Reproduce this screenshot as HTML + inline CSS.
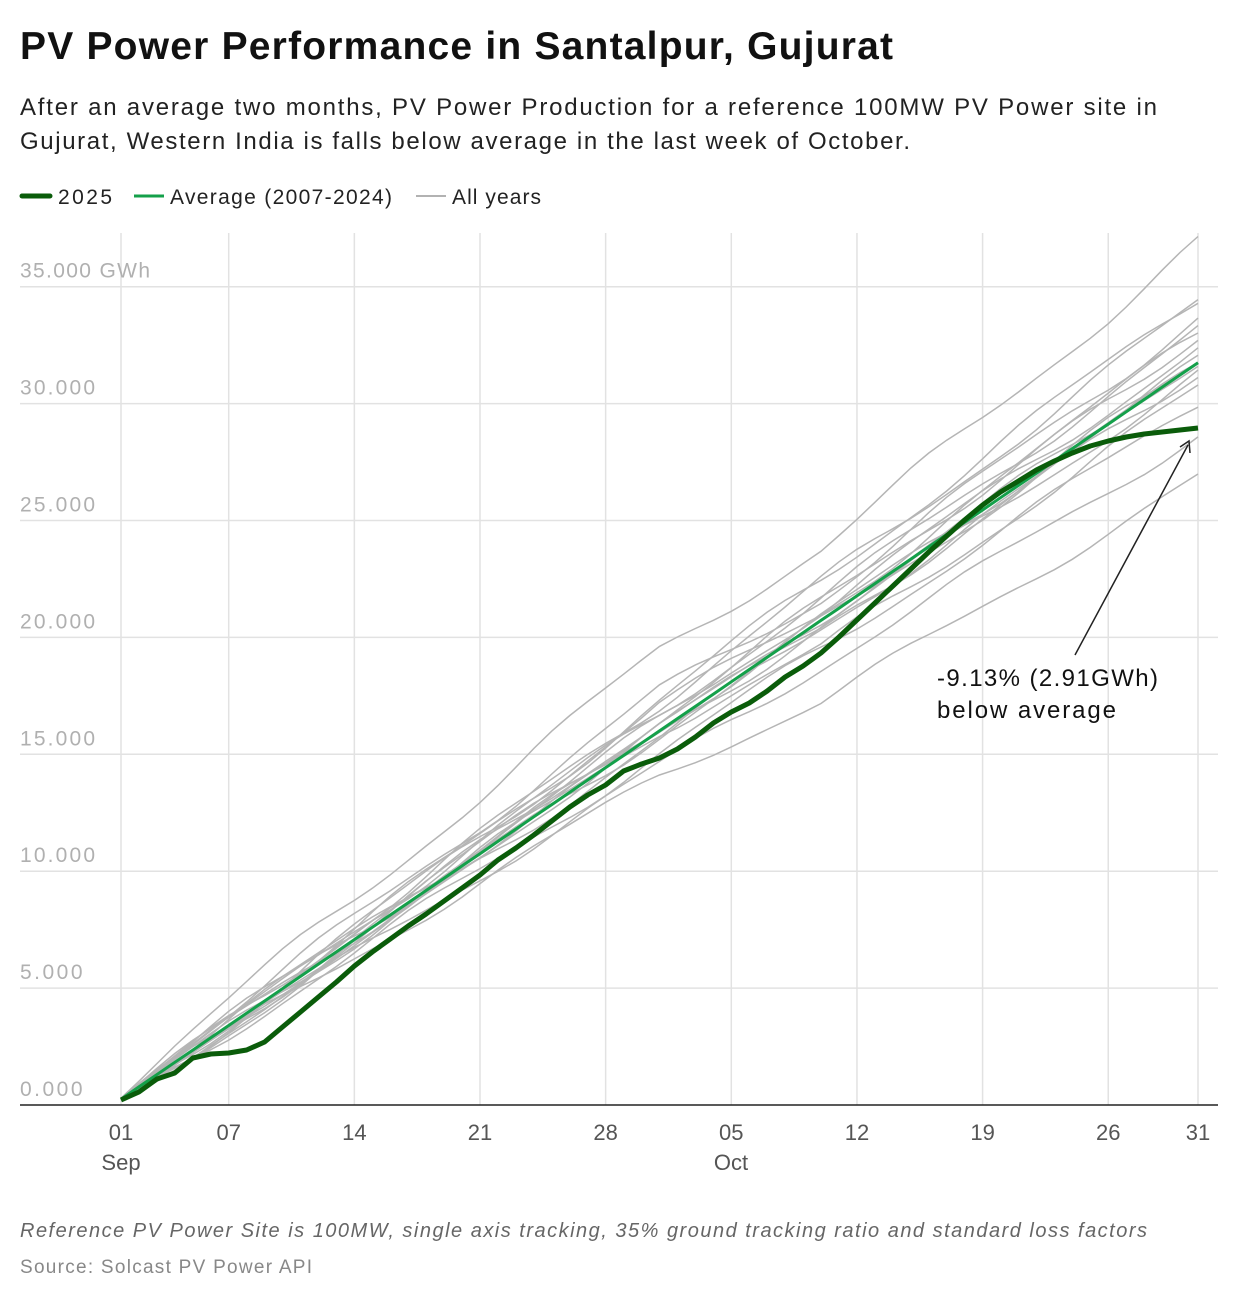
<!DOCTYPE html>
<html><head><meta charset="utf-8"><style>
html,body{margin:0;padding:0;background:#fff;}
body{width:1240px;height:1300px;overflow:hidden;font-family:"Liberation Sans",sans-serif;}
</style></head><body>
<svg id="s" width="1240" height="1300" xmlns="http://www.w3.org/2000/svg" font-family="Liberation Sans, sans-serif">
<text x="20" y="59" font-size="39" font-weight="bold" fill="#111" textLength="873">PV Power Performance in Santalpur, Gujurat</text>
<text x="20" y="115" font-size="24" fill="#222" textLength="1137">After an average two months, PV Power Production for a reference 100MW PV Power site in</text>
<text x="20" y="149" font-size="24" fill="#222" textLength="890">Gujurat, Western India is falls below average in the last week of October.</text>
<line x1="22" y1="196" x2="50" y2="196" stroke="#0a5c0a" stroke-width="5" stroke-linecap="round"/>
<text x="58" y="204" font-size="21" fill="#222" textLength="54">2025</text>
<line x1="134" y1="196" x2="164" y2="196" stroke="#14a04a" stroke-width="3"/>
<text x="170" y="204" font-size="21" fill="#222" textLength="222">Average (2007-2024)</text>
<line x1="416" y1="196" x2="446" y2="196" stroke="#999" stroke-width="1.5"/>
<text x="452" y="204" font-size="21" fill="#222" textLength="89">All years</text>
<g id="grid" stroke="#e2e2e2" stroke-width="1.5"></g>
<g id="ylab" font-size="21" fill="#b0b0b0"></g>
<g id="gray" fill="none" stroke="#b5b5b5" stroke-width="1.5"></g>
<polyline id="avg" fill="none" stroke="#14a04a" stroke-width="3"/>
<polyline id="y25" fill="none" stroke="#0a5c0a" stroke-width="5" stroke-linejoin="round"/>
<line x1="20" y1="1105" x2="1218" y2="1105" stroke="#222" stroke-width="1.5"/>
<g id="xlab" font-size="22" fill="#555" text-anchor="middle"></g>
<text x="121" y="1170" font-size="22" fill="#555" text-anchor="middle">Sep</text>
<text x="731" y="1170" font-size="22" fill="#555" text-anchor="middle">Oct</text>
<line x1="1075" y1="655" x2="1188" y2="445" stroke="#222" stroke-width="1.5"/>
<polyline points="1180,447 1189,441 1190,453" fill="none" stroke="#222" stroke-width="1.5"/>
<text x="937" y="686" font-size="24" fill="#111" textLength="221">-9.13% (2.91GWh)</text>
<text x="937" y="718" font-size="24" fill="#111" textLength="179">below average</text>
<text x="20" y="1237" font-size="20" font-style="italic" fill="#666" textLength="1127">Reference PV Power Site is 100MW, single axis tracking, 35% ground tracking ratio and standard loss factors</text>
<text x="20" y="1273" font-size="19" fill="#888" textLength="292">Source: Solcast PV Power API</text>
</svg>
<script>
var NS="http://www.w3.org/2000/svg";
function el(t,a,p,txt){var e=document.createElementNS(NS,t);for(var k in a)e.setAttribute(k,a[k]);if(txt)e.textContent=txt;document.getElementById(p).appendChild(e);}
function X(d){return 121+17.95*d;}
function Y(v){return 1105-v*0.02338;}
for(var i=1;i<=7;i++){var y=Y(i*5000);el('line',{x1:20,x2:1218,y1:y,y2:y},'grid');}
var xs=[[0,'01'],[6,'07'],[13,'14'],[20,'21'],[27,'28'],[34,'05'],[41,'12'],[48,'19'],[55,'26'],[60,'31']];
xs.forEach(function(a){el('line',{x1:X(a[0]),x2:X(a[0]),y1:233,y2:1105},'grid');el('text',{x:X(a[0]),y:1140},'xlab',a[1]);});
var labs=['0.000','5.000','10.000','15.000','20.000','25.000','30.000','35.000 GWh'];
labs.forEach(function(l,i){var a={x:20,y:Y(i*5000)-9};a.textLength=(l.length*12.5+(i==7?5:0));el('text',a,'ylab',l);});
var avg=[];for(var d=0;d<=60;d++){avg.push(250+525*d);}
function pts(arr){return arr.map(function(v,d){return X(d).toFixed(1)+','+Y(v).toFixed(1);}).join(' ');}
document.getElementById('avg').setAttribute('points',pts(avg));
var fs=[1.17,1.085,1.08,1.06,1.05,1.04,1.03,1.02,1.01,1.0,0.995,0.99,0.97,0.94,0.9,0.85,1.0,0.98];
fs.forEach(function(f,k){var a=[],v=0,ph=k*1.7;
 for(var d=0;d<=60;d++){
  var w=1+0.18*Math.sin(d*0.35+ph)+0.1*Math.sin(d*0.9+ph*2.3);
  if(d==0)v=250*f;else v+=525*f*w*((k%3==0&&d>30&&d<40)?0.75:1);
  a.push(v);}
 var fin=a[60],target=31750*f;a=a.map(function(x,d){return x*(d==0?1:target/fin);});
 el('polyline',{points:pts(a)},'gray');});
var p25=[1100,1092,1079,1073,1058,1054,1053,1050,1042,1027,1012,997,982,966,952,939,926,914,901,888,875,860,848,835,821,807,795,785,771,764,758,749,737,723,712,703,691,677,666,653,637,620,603,586,569,552,536,520,505,492,481,470,461,453,446,441,437,434,432,430,428];
document.getElementById('y25').setAttribute('points',p25.map(function(y,d){return X(d).toFixed(1)+','+y;}).join(' '));
</script>
</body></html>
